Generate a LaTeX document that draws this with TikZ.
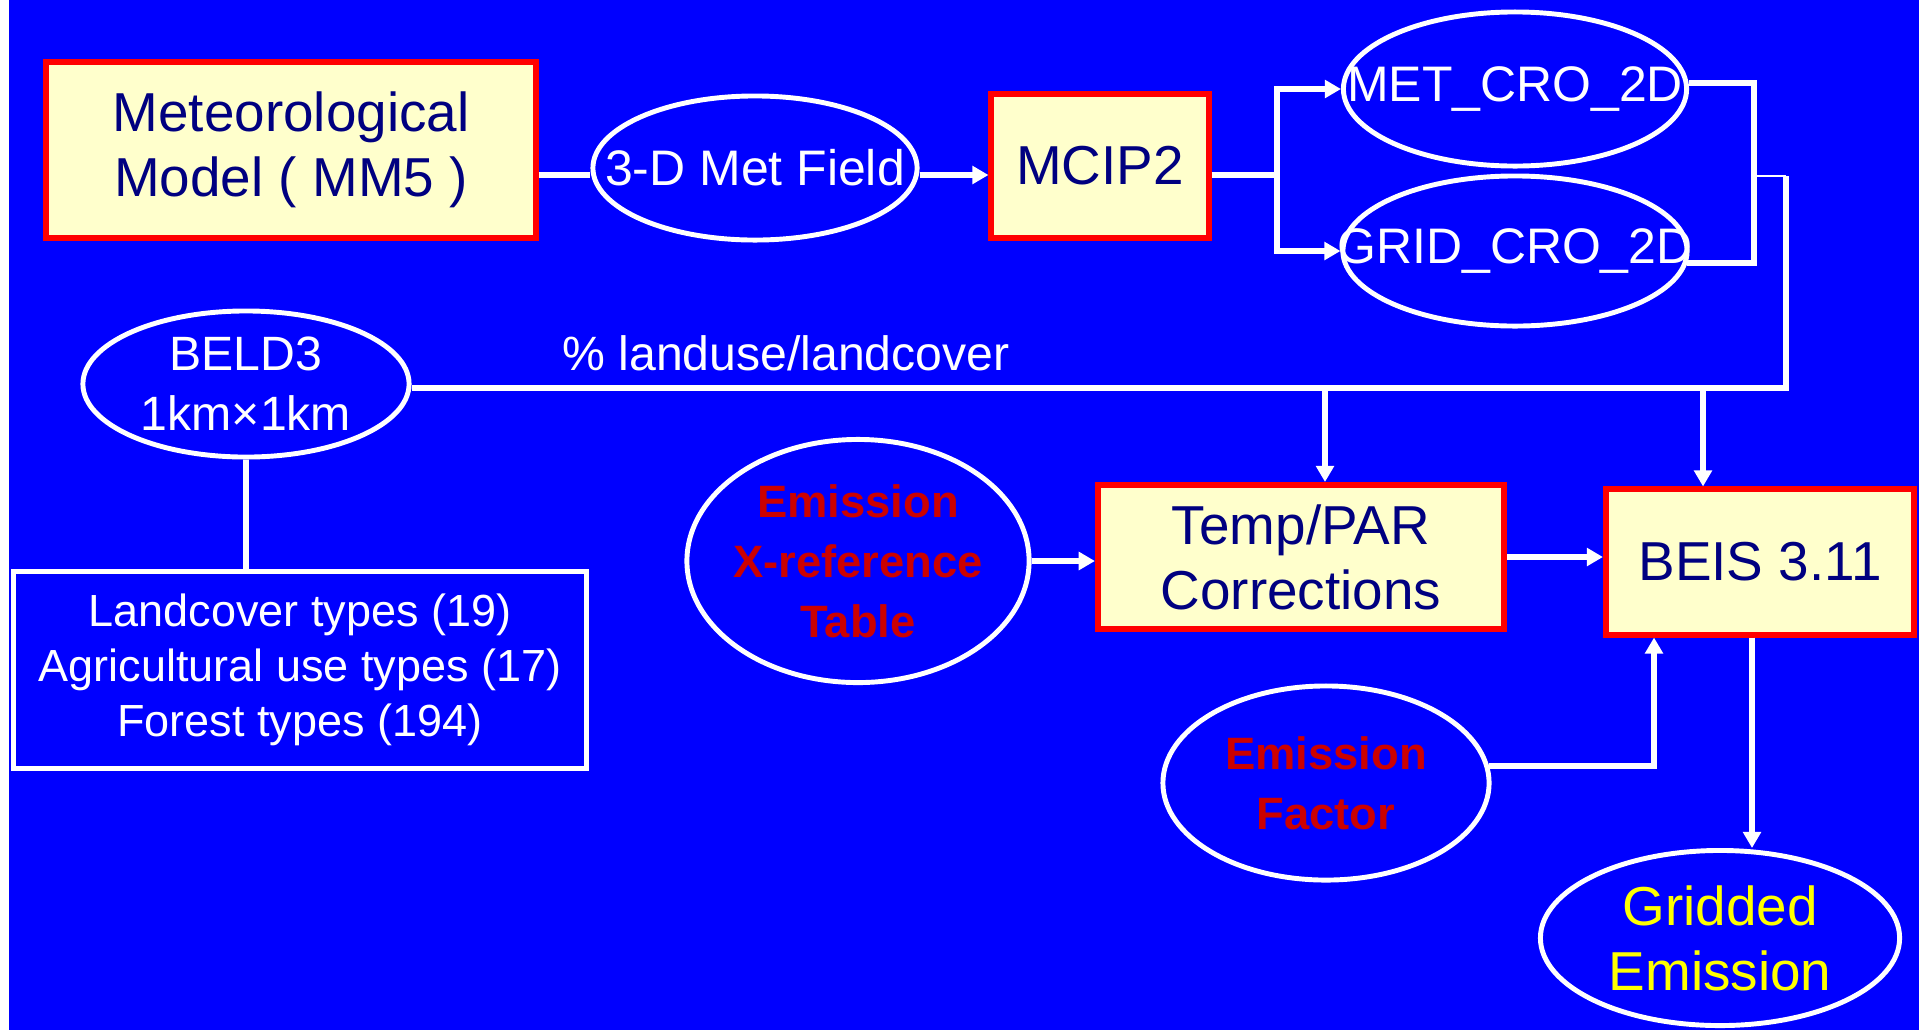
\documentclass[tikz,border=0pt]{standalone}
\usepackage{fontspec}
\setmainfont{Liberation Sans}
\usepackage{tikz}
\usetikzlibrary{arrows.meta,shapes.geometric}

\definecolor{bgblue}{RGB}{0,0,255}
\definecolor{boxfill}{RGB}{255,255,204}
\definecolor{navytext}{RGB}{0,0,128}
\definecolor{redtext}{RGB}{204,0,0}
\definecolor{yellowtext}{RGB}{255,255,0}

\begin{document}
\begin{tikzpicture}[x=0.01cm,y=-0.01cm,
    >={Triangle[length=4.6pt,width=5pt]},
    model/.style={rectangle, draw=red, line width=1.7pt, fill=boxfill, text=navytext, inner sep=0pt, align=center},
    oval/.style={ellipse, draw=white, line width=1.4pt, inner xsep=-3cm, inner ysep=-2cm, align=center},
    link/.style={draw=white, line width=1.6pt},
    thinlink/.style={draw=white, line width=0.8pt},
    bigtext/.style={font=\fontsize{15.6}{18.5}\selectfont},
    medtext/.style={font=\fontsize{14.2}{17}\selectfont},
    smalltext/.style={font=\fontsize{13.7}{17}\selectfont},
    redbold/.style={text=redtext, font=\bfseries\fontsize{12.9}{17}\selectfont}]

                % Background
                \fill[white] (0,0) rectangle (1919,1030);
                \fill[bgblue] (9,0) rectangle (1919,1030);
                \useasboundingbox (0,0) rectangle (1919,1030);

                % Nodes
                \node[model, bigtext, minimum width=4.89cm, minimum height=1.76cm] (met) at (291,150) {Meteorological\\Model ( MM5 )};
                \node[oval, medtext, text=white, minimum width=3.24cm, minimum height=1.44cm] (field) at (755,168) {3-D Met Field};
                \node[model, bigtext, minimum width=2.17cm, minimum height=1.44cm] (mcip) at (1100,166) {MCIP2};
                \node[oval, medtext, text=white, minimum width=3.43cm, minimum height=1.54cm] (metcro) at (1515,89) {MET\_CRO\_2D};
                \node[oval, medtext, text=white, minimum width=3.44cm, minimum height=1.50cm] (gridcro) at (1515,251) {GRID\_CRO\_2D};
                \node[oval, smalltext, text=white, minimum width=3.26cm, minimum height=1.46cm] (beld) at (246,384) {BELD3\\1km×1km};
                \node[draw=white, line width=1.4pt, text=white, align=center, font=\fontsize{12.8}{15.6}\selectfont, minimum width=5.72cm, minimum height=1.97cm] (types) at (300,670) {Landcover types (19)\\Agricultural use types (17)\\Forest types (194)};
                \node[smalltext, text=white, anchor=base] (landuse) at (786,370) {\% landuse/landcover};
                \node[oval, redbold, minimum width=3.42cm, minimum height=2.43cm] (xref) at (858,561) {Emission\\X-reference\\Table};
                \node[model, bigtext, minimum width=4.06cm, minimum height=1.44cm] (temp) at (1301,557) {Temp/PAR\\Corrections};
                \node[model, bigtext, minimum width=3.08cm, minimum height=1.45cm] (beis) at (1760,562) {BEIS 3.11};
                \node[oval, redbold, minimum width=3.26cm, minimum height=1.94cm] (factor) at (1326,783) {Emission\\Factor};
                \node[oval, bigtext, text=yellowtext, minimum width=3.59cm, minimum height=1.75cm] (gridded) at (1720,938) {Gridded\\Emission};

                % Joints
                \coordinate (split) at (1277,175);
                \coordinate (brk) at (1754,176);
                \coordinate (feed) at (1786,388);
                \coordinate (tapT) at (1325,388);
                \coordinate (tapB) at (1703,388);
                \coordinate (efin) at (1654,0);
                \coordinate (eout) at (1752,0);

                % Edges
                \draw[link] (met.east |- split)--(field.west |- split);
                \draw[link,->] (field.east |- split)--(mcip.west |- split);
                \draw[link] (mcip.east |- split)--(split);
                \draw[link,->] (split) |- (metcro.west);
                \draw[link,->] (split) |- (gridcro.west);
                \draw[link] (metcro.2) -| (brk) |- (gridcro.-4);
                \draw[thinlink] (brk)--(brk -| feed);
                \draw[link] (brk -| feed)--(feed)--(feed -| beld.east);
                \draw[link,->] (tapT)--(tapT |- temp.north);
                \draw[link,->] (tapB)--(tapB |- beis.north);
                \draw[link] (beld.south)--(beld.south |- types.north);
                \draw[link,->] (xref.east)--(xref.east -| temp.west);
                \draw[link,->] (temp.east)--(temp.east -| beis.west);
                \draw[link,->] (factor.6) -| (efin |- beis.south);
                \draw[link,->] (eout |- beis.south)--(eout |- gridded.north);
            \end{tikzpicture}
\end{document}
